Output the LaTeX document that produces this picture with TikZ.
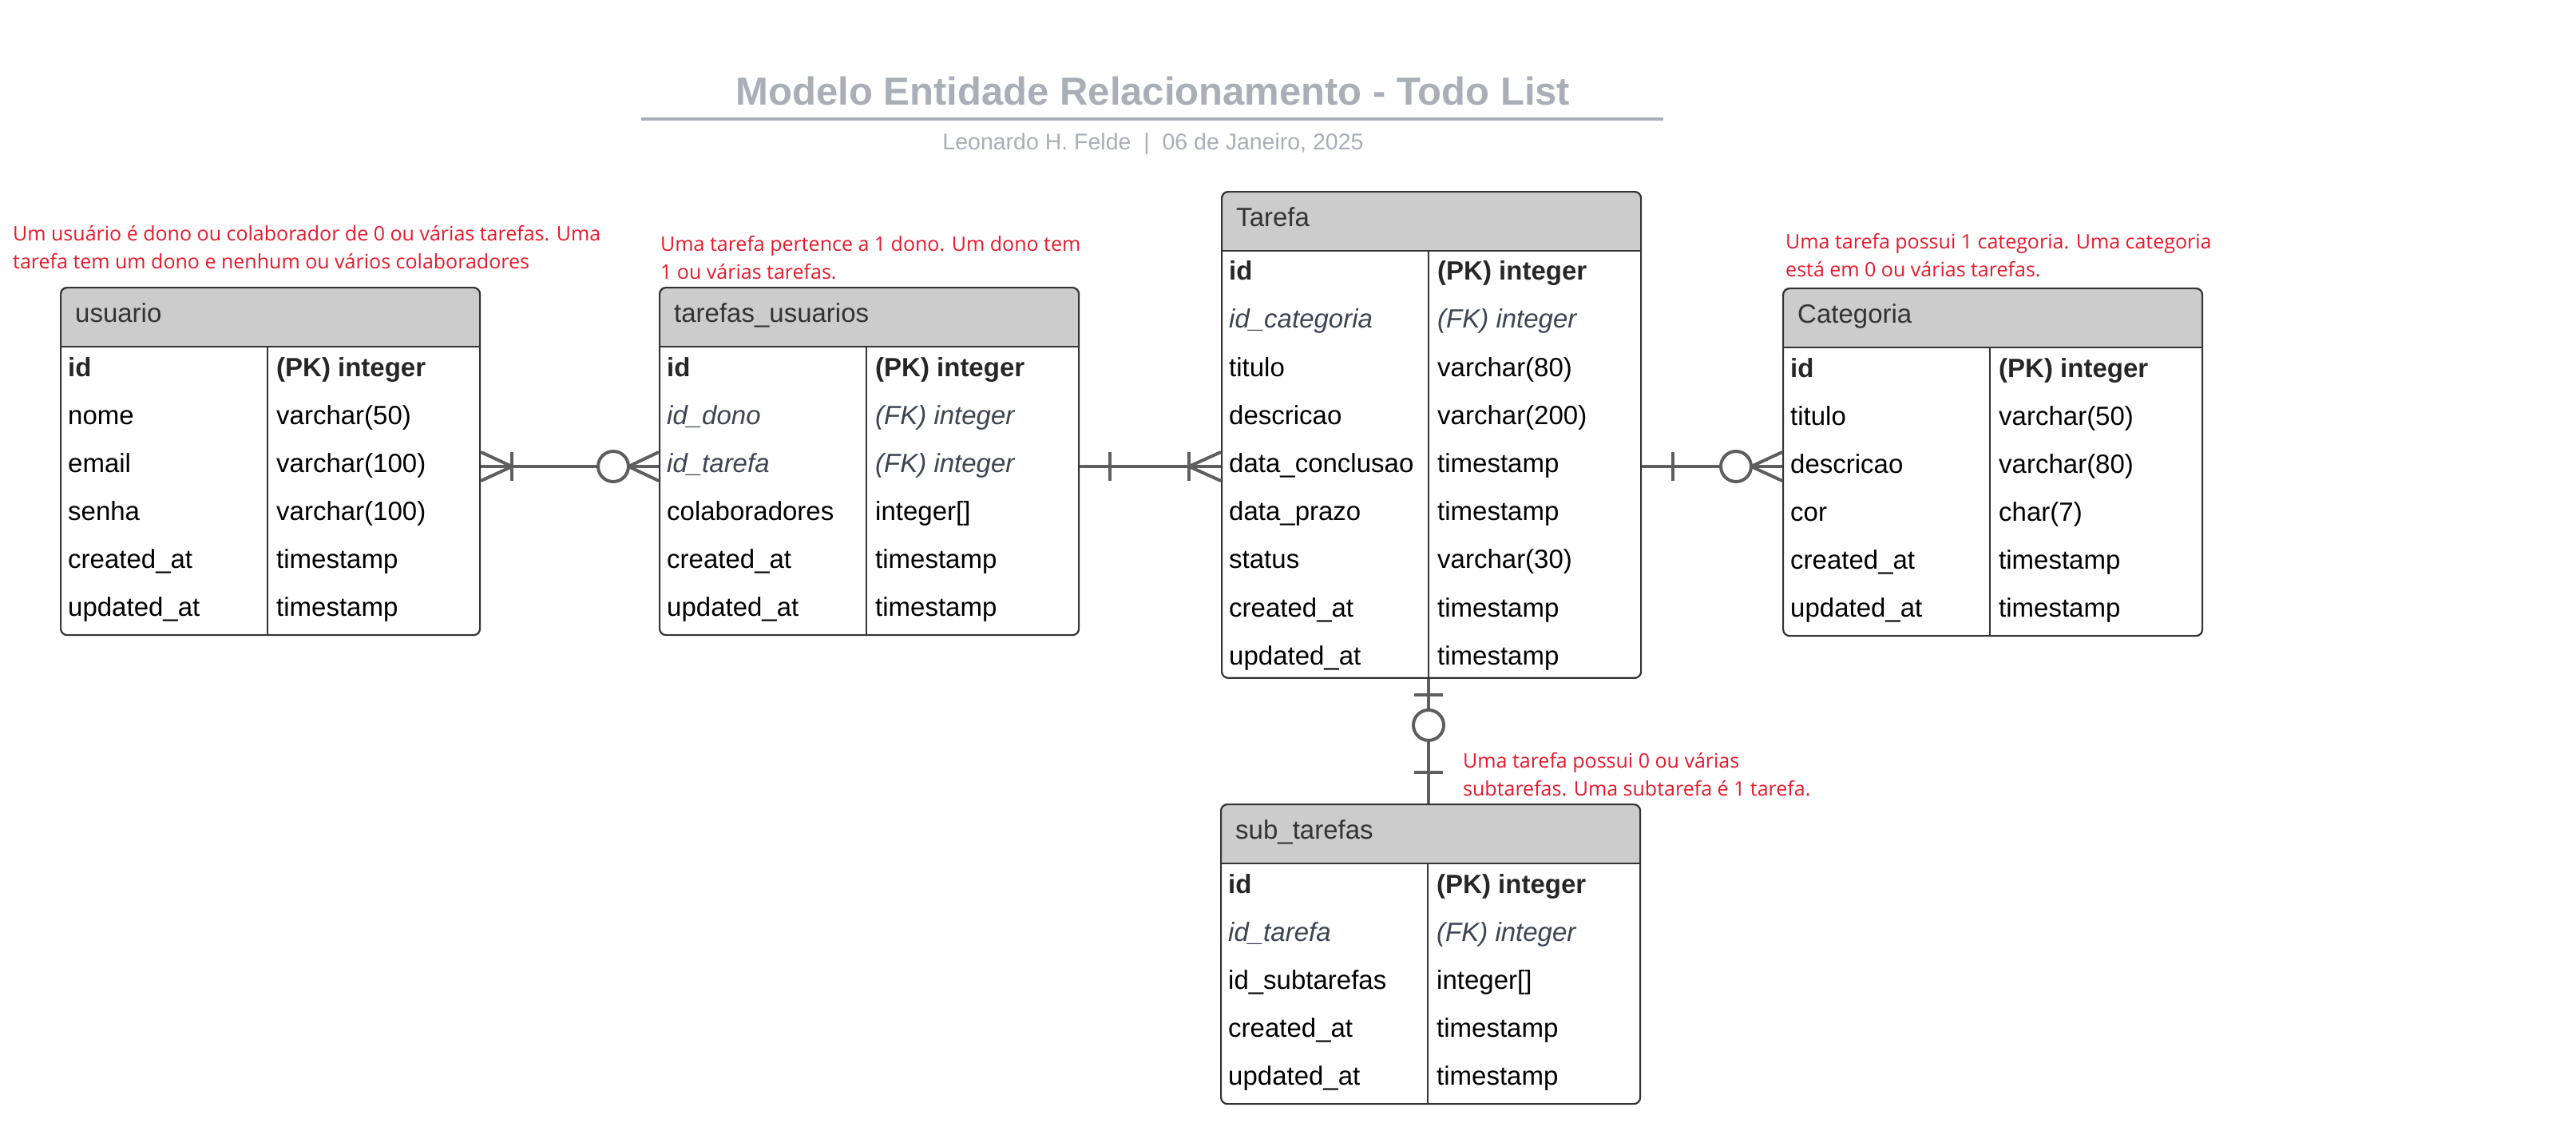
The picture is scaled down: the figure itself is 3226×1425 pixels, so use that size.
\documentclass[tikz,border=0pt]{standalone}
\usepackage{fontspec}
\setmainfont{Liberation Sans}
\newfontfamily\annfont{Open Sans}
\usetikzlibrary{calc}
\definecolor{headgray}{HTML}{CCCCCC}
\definecolor{bordergray}{HTML}{333333}
\definecolor{relgray}{HTML}{5E5E5E}
\definecolor{titlegray}{HTML}{A9AEB7}
\definecolor{annred}{HTML}{E8192C}
\definecolor{fkgray}{HTML}{3D4451}
\definecolor{pkdark}{HTML}{262626}
\tikzset{
  tablebox/.style={draw=bordergray, line width=2.2pt, rounded corners=8pt, minimum width=525pt, inner sep=0pt},
  gridline/.style={draw=bordergray, line width=2.2pt},
  headtext/.style={font=\fontsize{33}{40}\selectfont, text=bordergray, inner sep=0pt},
  fld/.style={font=\fontsize{33}{40}\selectfont, text=black, inner sep=0pt},
  fpk/.style={font=\bfseries\fontsize{33}{40}\selectfont, text=pkdark},
  ffk/.style={font=\itshape\fontsize{33}{40}\selectfont, text=fkgray},
  fno/.style={},
  rowstyle/.style={#1},
  rel/.style={draw=relgray, line width=4pt},
  ann/.style={font=\annfont\fontsize{25}{35}\selectfont, text=annred, align=left, inner sep=0pt},
}
% #1 name, #2 x, #3 y, #4 row height, #5 title, #6 number of rows, #7 rows, #8 text pitch
\newcommand\ertable[8]{%
  \pgfmathsetmacro\ertH{75+#4*#6}
  \fill[headgray] (#2,#3+75) [rounded corners=8pt] -- (#2,#3) -- (#2+525,#3) [sharp corners] -- (#2+525,#3+75) -- cycle;
  \node[tablebox, minimum height=\ertH pt, anchor=north west] (#1) at (#2,#3) {};
  \coordinate (#1-div) at (#2+260,#3+75);
  \coordinate (#1-hl) at (#2,#3+75);
  \coordinate (#1-hr) at (#2+525,#3+75);
  \draw[gridline] (#1-hl) -- (#1-hr);
  \draw[gridline] (#1-div) -- (#1-div |- #1.south);
  \node[headtext, anchor=base west] (#1-title) at (#2+19,#3+44) {#5};
  \foreach \f/\t/\s [count=\i] in {#7} {
    \pgfmathsetmacro\ertY{#3+75+0.62*#4+(\i-1)*#8}
    \node[fld, rowstyle/.expand once=\s, anchor=base west] (#1-f\i) at (#2+10, \ertY) {\f};
    \node[fld, rowstyle/.expand once=\s, anchor=base west] (#1-t\i) at (#2+271, \ertY) {\t};
    \coordinate (#1-r\i) at (#2, #3+75+\i*#4-0.5*#4);
  }
}
\begin{document}
\begin{tikzpicture}[x=1pt,y=-1pt]
\useasboundingbox (0,0) rectangle (3226,1425);
\fill[white] (0,0) rectangle (3226,1425);

% title
\node[font=\bfseries\fontsize{49}{58}\selectfont, text=titlegray, anchor=base, inner sep=0pt] (title) at (1444,131) {Modelo Entidade Relacionamento - Todo List};
\coordinate (ruleL) at (803,149);
\coordinate (ruleR) at (2083,149);
\draw[titlegray, line width=4pt] (ruleL) -- (ruleR);
\node[font=\fontsize{28.5}{34}\selectfont, text=titlegray, anchor=base, inner sep=0pt] (subtitle) at (1444,187) {Leonardo H. Felde \ | \ 06 de Janeiro, 2025};

% tables
\ertable{usuario}{75}{359}{60}{usuario}{6}{%
  id/(PK) integer/fpk, nome/varchar(50)/fno, email/varchar(100)/fno, senha/varchar(100)/fno,
  created\_at/timestamp/fno, updated\_at/timestamp/fno}{60}
\ertable{tu}{825}{359}{60}{tarefas\_usuarios}{6}{%
  id/(PK) integer/fpk, id\_dono/(FK) integer/ffk, id\_tarefa/(FK) integer/ffk, colaboradores/integer[]/fno,
  created\_at/timestamp/fno, updated\_at/timestamp/fno}{60}
\ertable{tarefa}{1529}{239}{59.3}{Tarefa}{9}{%
  id/(PK) integer/fpk, id\_categoria/(FK) integer/ffk, titulo/varchar(80)/fno, descricao/varchar(200)/fno,
  data\_conclusao/timestamp/fno, data\_prazo/timestamp/fno, status/varchar(30)/fno,
  created\_at/timestamp/fno, updated\_at/timestamp/fno}{60.2}
\ertable{categoria}{2232}{360}{60}{Categoria}{6}{%
  id/(PK) integer/fpk, titulo/varchar(50)/fno, descricao/varchar(80)/fno, cor/char(7)/fno,
  created\_at/timestamp/fno, updated\_at/timestamp/fno}{60}
\ertable{sub}{1528}{1006}{60}{sub\_tarefas}{5}{%
  id/(PK) integer/fpk, id\_tarefa/(FK) integer/ffk, id\_subtarefas/integer[]/fno,
  created\_at/timestamp/fno, updated\_at/timestamp/fno}{60}

% relation 1: usuario (1..N) -- (0..N) tarefas_usuarios
\coordinate (c1a) at (usuario.east |- usuario-r3);
\coordinate (c1b) at (tu.west |- usuario-r3);
\draw[rel] (c1a) -- (c1b);
\draw[rel] ([yshift=18pt]c1a) -- ([xshift=39pt]c1a) -- ([yshift=-18pt]c1a);
\draw[rel] ([xshift=39pt,yshift=18pt]c1a) -- ([xshift=39pt,yshift=-18pt]c1a);
\draw[rel] ([yshift=18pt]c1b) -- ([xshift=-38pt]c1b) -- ([yshift=-18pt]c1b);
\draw[rel, fill=white] ([xshift=-57pt]c1b) circle (19pt);

% relation 2: tarefas_usuarios (1) -- (1..N) Tarefa
\coordinate (c2a) at (tu.east |- tu-r3);
\coordinate (c2b) at (tarefa.west |- tu-r3);
\draw[rel] (c2a) -- (c2b);
\draw[rel] ([xshift=38pt,yshift=18pt]c2a) -- ([xshift=38pt,yshift=-18pt]c2a);
\draw[rel] ([yshift=18pt]c2b) -- ([xshift=-40pt]c2b) -- ([yshift=-18pt]c2b);
\draw[rel] ([xshift=-40pt,yshift=18pt]c2b) -- ([xshift=-40pt,yshift=-18pt]c2b);

% relation 3: Tarefa (1) -- (0..N) Categoria
\coordinate (c3a) at (tarefa.east |- tu-r3);
\coordinate (c3b) at (categoria.west |- tu-r3);
\draw[rel] (c3a) -- (c3b);
\draw[rel] ([xshift=39pt,yshift=18pt]c3a) -- ([xshift=39pt,yshift=-18pt]c3a);
\draw[rel] ([yshift=18pt]c3b) -- ([xshift=-39pt]c3b) -- ([yshift=-18pt]c3b);
\draw[rel, fill=white] ([xshift=-58pt]c3b) circle (19pt);

% relation 4: Tarefa (0..1) -- (1) sub_tarefas
\coordinate (c4a) at (tarefa.south -| tarefa-div);
\coordinate (c4b) at (sub.north -| tarefa-div);
\draw[rel] (c4a) -- (c4b);
\draw[rel] ([xshift=-18pt,yshift=-20pt]c4a) -- ([xshift=18pt,yshift=-20pt]c4a);
\draw[rel, fill=white] ([yshift=-58pt]c4a) circle (19pt);
\draw[rel] ([xshift=-18pt,yshift=39pt]c4b) -- ([xshift=18pt,yshift=39pt]c4b);

% annotations (base anchor = baseline of the last line)
\node[ann, anchor=base west] (n1) at (16,336.7) {Um usuário é dono ou colaborador de 0 ou várias tarefas. Uma\\tarefa tem um dono e nenhum ou vários colaboradores};
\node[ann, anchor=base west] (n2) at (827,349.5) {Uma tarefa pertence a 1 dono. Um dono tem\\1 ou várias tarefas.};
\node[ann, anchor=base west] (n3) at (2236,346) {Uma tarefa possui 1 categoria. Uma categoria\\está em 0 ou várias tarefas.};
\node[ann, anchor=base west] (n4) at (1832,996.7) {Uma tarefa possui 0 ou várias\\subtarefas. Uma subtarefa é 1 tarefa.};
\end{tikzpicture}
\end{document}
